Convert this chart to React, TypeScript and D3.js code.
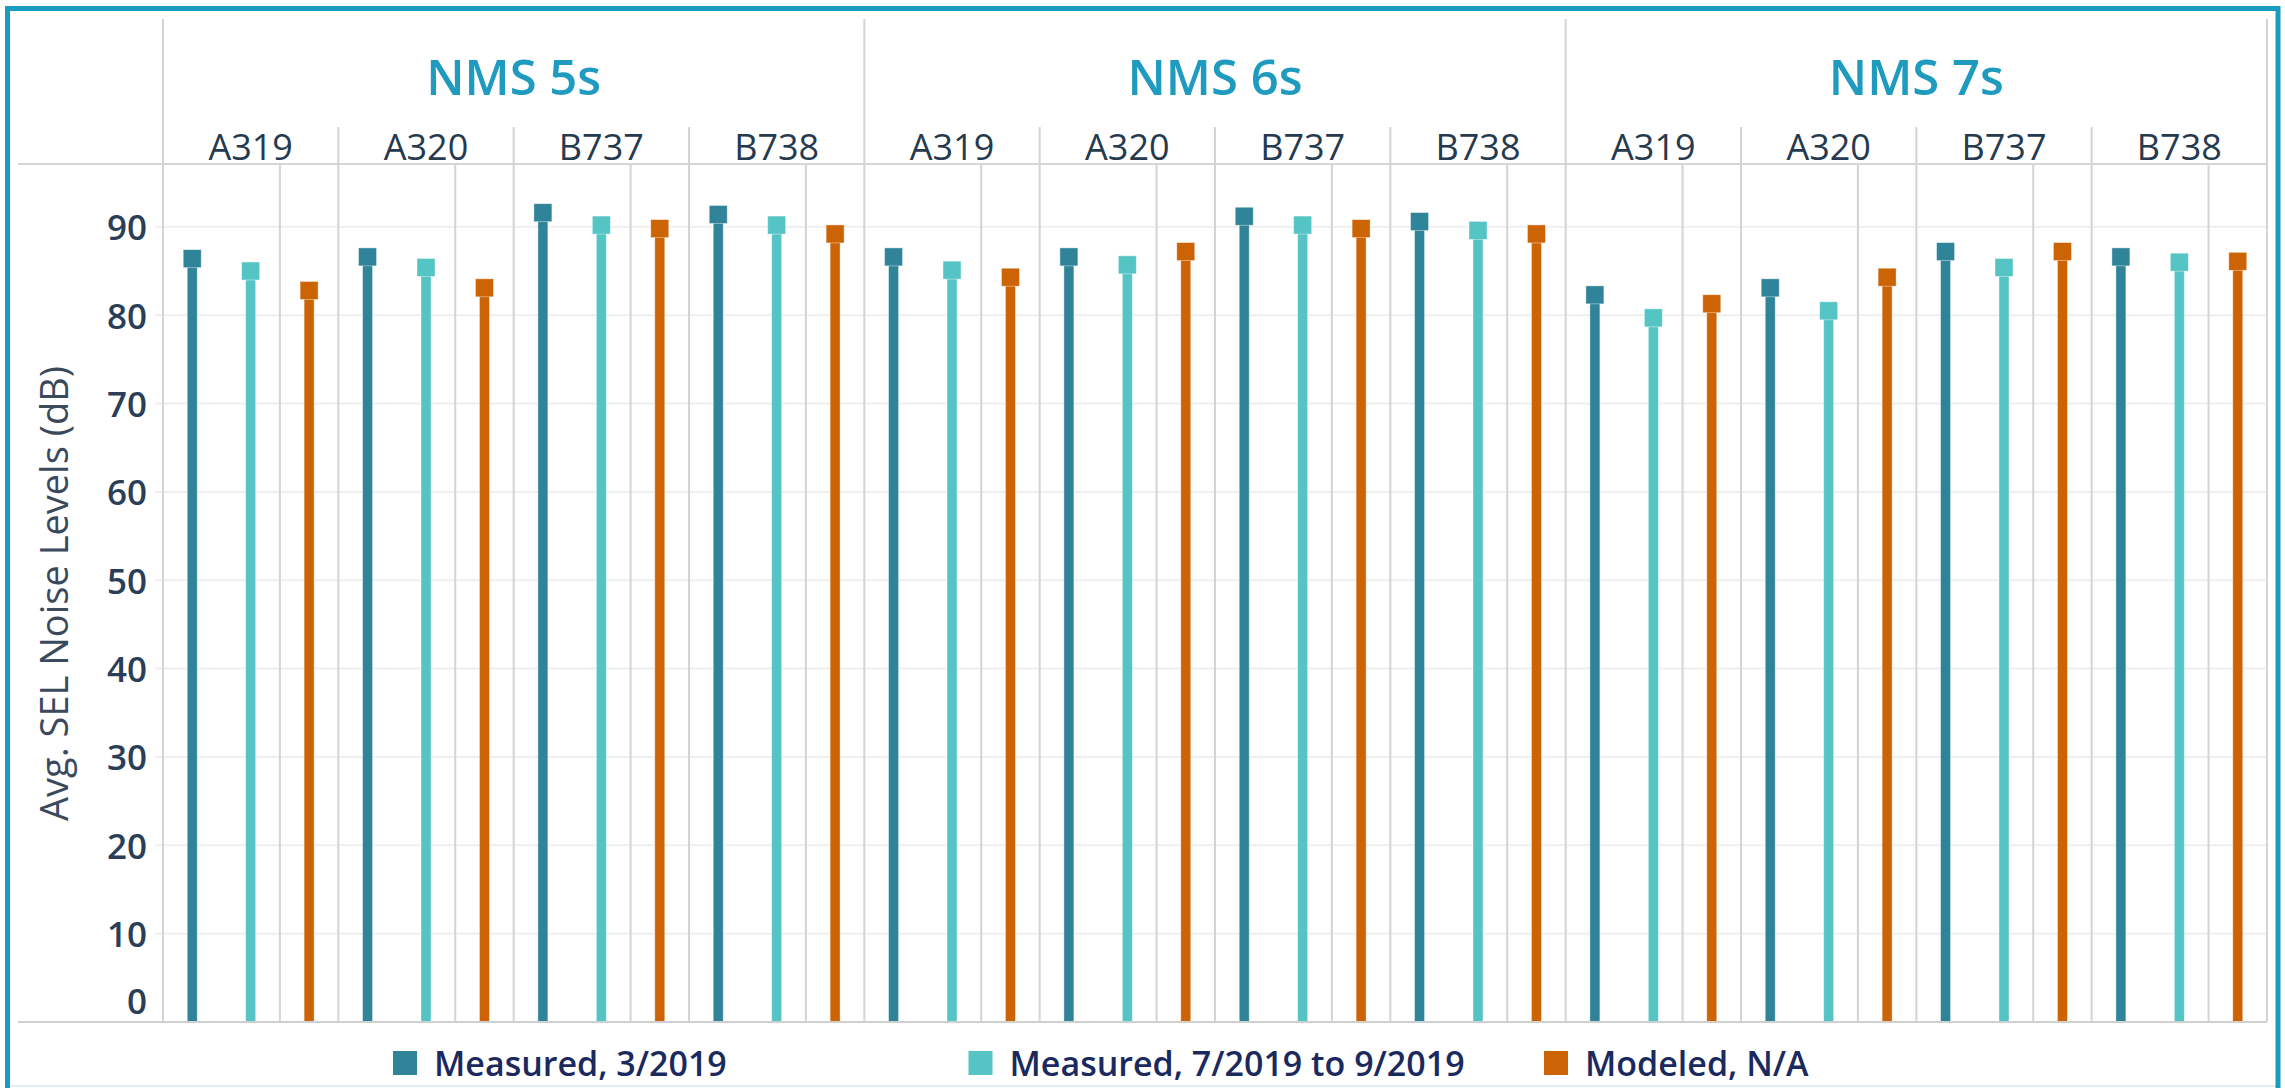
import React from "react";
import * as d3 from "d3";

const groups = ["NMS 5s", "NMS 6s", "NMS 7s"];
const aircraft = ["A319", "A320", "B737", "B738"];
const seriesNames = ["Measured, 3/2019", "Measured, 7/2019 to 9/2019", "Modeled, N/A"];
// values ordered group-major: NMS5s A319..B738, NMS6s A319..B738, NMS7s A319..B738
const measuredMar2019 = [86.4, 86.6, 91.6, 91.4, 86.6, 86.6, 91.2, 90.6, 82.3, 83.1, 87.2, 86.6];
const measuredJulSep2019 = [85.0, 85.4, 90.2, 90.2, 85.1, 85.7, 90.2, 89.6, 79.7, 80.5, 85.4, 86.0];
const modeled = [82.8, 83.1, 89.8, 89.2, 84.3, 87.2, 89.8, 89.2, 81.3, 84.3, 87.2, 86.1];
const yTicks = [0, 10, 20, 30, 40, 50, 60, 70, 80, 90];
const seriesColors = ["#2f8499", "#55c4c5", "#cc6305"];

const W = 2285;
const H = 1088;
const FONT = "'Open Sans', 'Noto Sans', sans-serif";

export default function App() {
  const plotLeft = 163;
  const plotRight = 2267;
  const axisY = 1022;
  const headerY = 165;
  const groupTop = 19;
  const subTop = 127;

  const y = d3.scaleLinear().domain([0, 97]).range([axisY, headerY]);
  const xGroup = d3.scaleBand<string>().domain(groups).range([plotLeft, plotRight]).padding(0);
  const xAir = d3.scaleBand<string>().domain(aircraft).range([0, xGroup.bandwidth()]).padding(0);
  const xSer = d3.scaleBand<string>().domain(seriesNames).range([0, xAir.bandwidth()]).padding(0);

  const allSeries = [measuredMar2019, measuredJulSep2019, modeled];

  const lineColor = "#d4d4d4";
  const stemW = 10;
  const cap = 18;

  return (
    <div style={{ position: "absolute", left: 0, top: 0 }}>
      <svg width={W} height={H} style={{ display: "block", background: "#fff" }}>
        <rect x={0} y={0} width={W} height={H} fill="#fff" />
        {/* horizontal gridlines */}
        {yTicks.filter((t) => t > 0).map((t) => (
          <line key={"g" + t} x1={155} x2={plotRight} y1={y(t)} y2={y(t)} stroke="#efefef" strokeWidth={2} />
        ))}
        {/* header baseline */}
        <line x1={18} x2={plotRight} y1={headerY - 1} y2={headerY - 1} stroke="#d6d6d6" strokeWidth={2} />
        {/* group dividers */}
        {groups.map((g) => (
          <line key={"gd" + g} x1={xGroup(g)!} x2={xGroup(g)!} y1={groupTop} y2={axisY} stroke={lineColor} strokeWidth={2} />
        ))}
        <line x1={plotRight} x2={plotRight} y1={groupTop} y2={axisY} stroke={lineColor} strokeWidth={2} />
        {/* subcategory dividers and inner lines */}
        {groups.map((g) =>
          aircraft.map((a, ai) => {
            const x0 = xGroup(g)! + xAir(a)!;
            const xi = x0 + xSer(seriesNames[2])!;
            return (
              <g key={"sd" + g + a}>
                {ai > 0 && <line x1={x0} x2={x0} y1={subTop} y2={axisY} stroke={lineColor} strokeWidth={2} />}
                <line x1={xi} x2={xi} y1={headerY} y2={axisY} stroke={lineColor} strokeWidth={2} />
              </g>
            );
          })
        )}
        {/* group titles */}
        {groups.map((g) => (
          <text key={"gt" + g} x={xGroup(g)! + xGroup.bandwidth() / 2} y={95} textAnchor="middle" fontFamily={FONT} fontSize={49} fontWeight={600} fill="#1e9bbf">
            {g}
          </text>
        ))}
        {/* aircraft labels */}
        {groups.map((g) =>
          aircraft.map((a) => (
            <text key={"al" + g + a} x={xGroup(g)! + xAir(a)! + xAir.bandwidth() / 2} y={160} textAnchor="middle" fontFamily={FONT} fontSize={36} fill="#263a4f">
              {a}
            </text>
          ))
        )}
        {/* stems */}
        {groups.map((g, gi) =>
          aircraft.map((a, ai) =>
            seriesNames.map((s, si) => {
              const v = allSeries[si][gi * aircraft.length + ai];
              const cx = xGroup(g)! + xAir(a)! + xSer(s)! + xSer.bandwidth() / 2;
              const cy = y(v);
              return (
                <g key={"m" + g + a + s}>
                  <rect x={cx - stemW / 2} y={cy} width={stemW} height={axisY - cy} fill={seriesColors[si]} stroke="rgba(255,255,255,0.5)" strokeWidth={0.8} />
                  <rect x={cx - cap / 2} y={cy - cap / 2} width={cap} height={cap} fill={seriesColors[si]} stroke="rgba(255,255,255,0.5)" strokeWidth={0.8} />
                </g>
              );
            })
          )
        )}
        <line x1={18} x2={plotRight} y1={axisY} y2={axisY} stroke="#cfcfcf" strokeWidth={2} />
        {/* y tick labels */}
        {yTicks.map((t) => (
          <text key={"yt" + t} x={147} y={Math.min(y(t), axisY - 22)} textAnchor="end" dominantBaseline="central" fontFamily={FONT} fontSize={35} fontWeight={600} fill="#2a3e57">
            {t}
          </text>
        ))}
        {/* y axis title */}
        <text transform={`translate(68, ${(axisY + headerY) / 2}) rotate(-90)`} textAnchor="middle" fontFamily={FONT} fontSize={38} fill="#3a4a5c">
          Avg. SEL Noise Levels (dB)
        </text>
        {/* legend */}
        {seriesNames.map((s, i) => {
          const lx = 393 + i * 575.5;
          return (
            <g key={"lg" + s}>
              <rect x={lx} y={1051} width={24} height={24} fill={seriesColors[i]} />
              <text x={lx + 41} y={1076} fontFamily={FONT} fontSize={34} fontWeight={600} fill="#1b2a5e">
                {s}
              </text>
            </g>
          );
        })}
        <line x1={10} x2={2276} y1={1086} y2={1086} stroke="#e3ecf0" strokeWidth={2} />
        {/* outer frame */}
        <rect x={7.5} y={8.5} width={2270.5} height={1100} fill="none" stroke="#1a9cbf" strokeWidth={5} />
      </svg>
    </div>
  );
}
